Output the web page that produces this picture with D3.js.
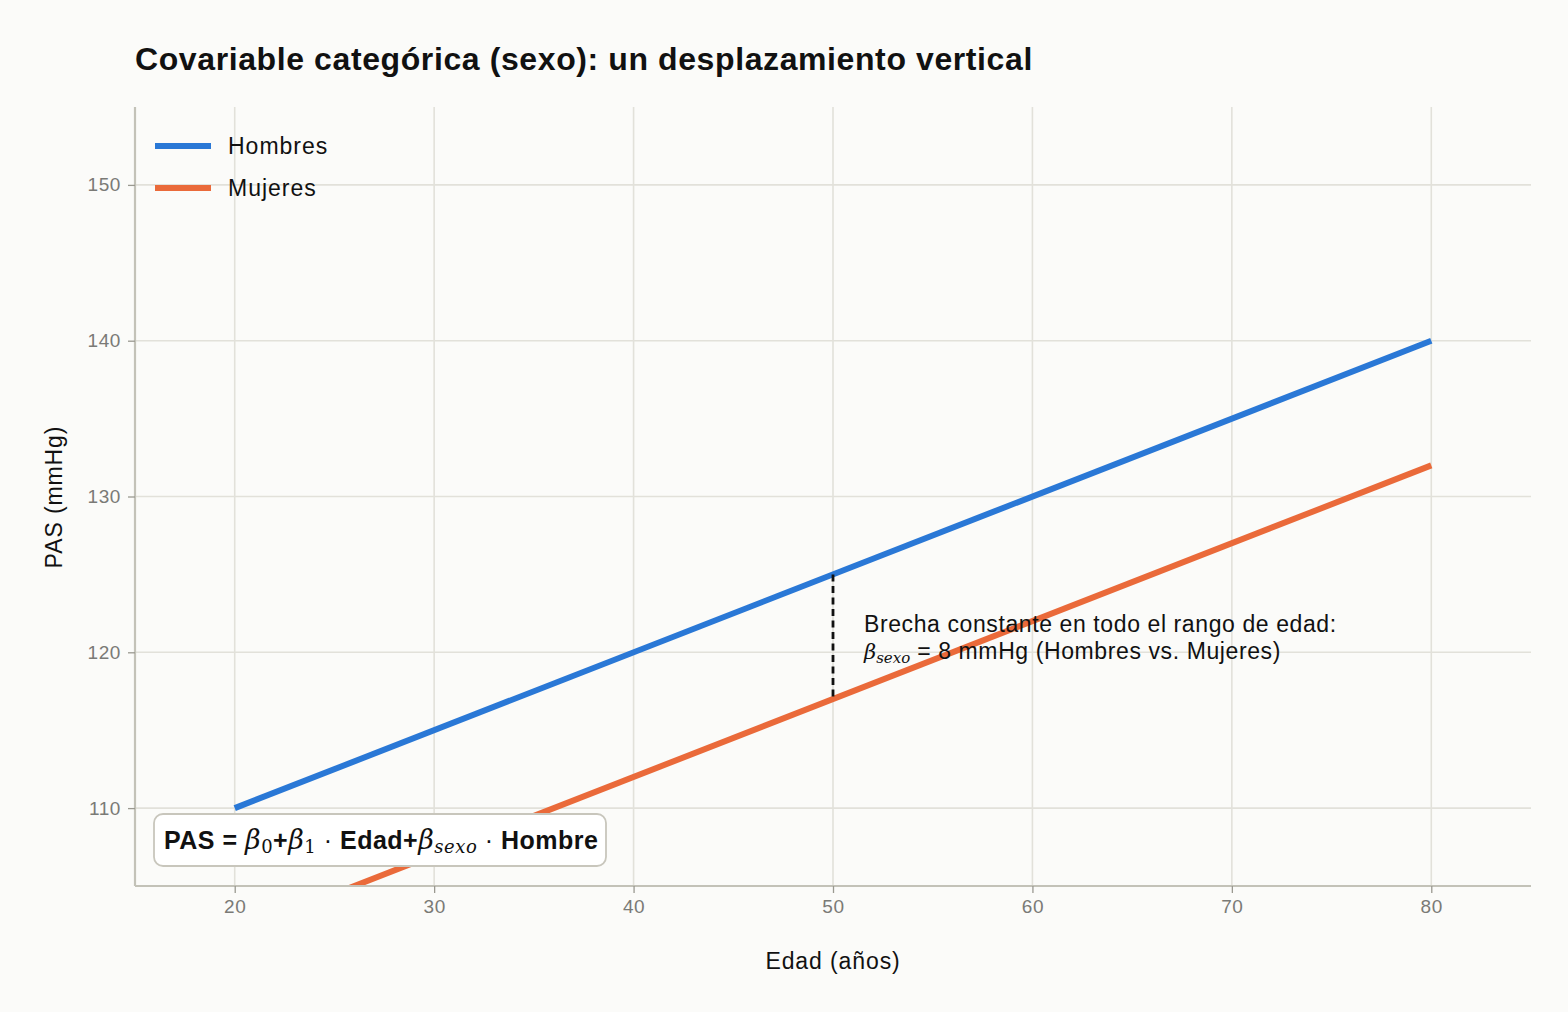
<!DOCTYPE html>
<html><head><meta charset="utf-8">
<script src="https://cdn.jsdelivr.net/npm/d3@7/dist/d3.min.js"></script>
<style>
body{margin:0;background:#fbfbf9;}
svg{display:block;font-family:"Liberation Sans",Arial,Helvetica,sans-serif;}
</style></head><body>
<svg id="c" width="1568" height="1012"></svg>
<script>
const ages = [20, 80];
const hombres = [110, 140];
const mujeres = [102, 132];
const xTicks = [20, 30, 40, 50, 60, 70, 80];
const yTicks = [110, 120, 130, 140, 150];
const seriesNames = ["Hombres", "Mujeres"];
const gapAge = 50, gapTop = 125, gapBottom = 117;

const svg = d3.select("#c");
svg.append("rect").attr("width",1568).attr("height",1012).attr("fill","#fbfbf9");
const L=135,R=1531,T=107,B=886;
const x = d3.scaleLinear().domain([15,85]).range([L,R]);
const y = d3.scaleLinear().domain([105,155]).range([B,T]);
const colors = {Hombres:"#2a78d6", Mujeres:"#ea6a3a"};

// grid
svg.append("g").selectAll("line").data(xTicks).join("line")
  .attr("x1",d=>x(d)).attr("x2",d=>x(d)).attr("y1",T).attr("y2",B)
  .attr("stroke","#e2e1da").attr("stroke-width",1.6);
svg.append("g").selectAll("line").data(yTicks).join("line")
  .attr("y1",d=>y(d)).attr("y2",d=>y(d)).attr("x1",L).attr("x2",R)
  .attr("stroke","#e2e1da").attr("stroke-width",1.6);

svg.append("defs").append("clipPath").attr("id","clip").append("rect")
  .attr("x",L).attr("y",T).attr("width",R-L).attr("height",B-T);

const line = d3.line().x(d=>x(d[0])).y(d=>y(d[1]));
const series = [["Hombres",hombres],["Mujeres",mujeres]];
svg.append("g").attr("clip-path","url(#clip)").selectAll("path").data(series).join("path")
  .attr("d",d=>line(ages.map((a,i)=>[a,d[1][i]])))
  .attr("fill","none").attr("stroke",d=>colors[d[0]]).attr("stroke-width",6);

// dashed gap
svg.append("line").attr("x1",x(gapAge)).attr("x2",x(gapAge))
  .attr("y1",y(gapTop)).attr("y2",y(gapBottom))
  .attr("stroke","#111").attr("stroke-width",2.8).attr("stroke-dasharray","7,4.5");

// axes
const xa = svg.append("g").attr("transform",`translate(0,${B})`)
  .call(d3.axisBottom(x).tickValues(xTicks).tickSize(7).tickPadding(7));
const ya = svg.append("g").attr("transform",`translate(${L},0)`)
  .call(d3.axisLeft(y).tickValues(yTicks).tickSize(7).tickPadding(7));
[xa,ya].forEach(a=>{
  a.select(".domain").attr("stroke","#c3c2b8").attr("stroke-width",2.2);
  a.selectAll(".tick line").attr("stroke","#9a9990").attr("stroke-width",1.3);
  a.selectAll(".tick text").attr("fill","#7a7a76").attr("font-size",19).attr("letter-spacing",0.6)
   .attr("font-family","'Liberation Sans',Arial,sans-serif");
});
xa.select(".domain").attr("d",`M${L},0H${R}`);
ya.select(".domain").attr("d",`M0,${T}V${B}`);

// titles
svg.append("text").attr("x",135).attr("y",70).attr("font-size",32).attr("font-weight","bold").attr("letter-spacing",0.6)
  .attr("fill","#111").text("Covariable categórica (sexo): un desplazamiento vertical");
svg.append("text").attr("x",833).attr("y",969).attr("text-anchor","middle")
  .attr("font-size",23).attr("letter-spacing",0.9).attr("fill","#111").text("Edad (años)");
svg.append("text").attr("transform","translate(62,497) rotate(-90)").attr("text-anchor","middle")
  .attr("font-size",23).attr("letter-spacing",0.9).attr("fill","#111").text("PAS (mmHg)");

// legend
const lg = svg.append("g");
seriesNames.forEach((n,i)=>{
  const yy = 146 + i*42;
  lg.append("line").attr("x1",155).attr("x2",211).attr("y1",yy).attr("y2",yy)
    .attr("stroke",colors[n]).attr("stroke-width",6);
  lg.append("text").attr("x",228).attr("y",yy+8).attr("font-size",23).attr("letter-spacing",1.0).attr("fill","#111").text(n);
});

// annotation
const mathFont = "'DejaVu Serif','Liberation Serif',serif";
svg.append("text").attr("x",864).attr("y",632).attr("font-size",23).attr("letter-spacing",0.6).attr("fill","#111")
  .text("Brecha constante en todo el rango de edad:");
const l2 = svg.append("text").attr("x",864).attr("y",659).attr("font-size",23).attr("letter-spacing",0.6).attr("fill","#111");
l2.append("tspan").attr("font-family",mathFont).attr("font-style","italic").attr("letter-spacing",0).attr("font-size",21).text("β");
l2.append("tspan").attr("font-family",mathFont).attr("font-style","italic").attr("letter-spacing",0).attr("font-size",15).attr("dy",4).text("sexo");
l2.append("tspan").attr("dy",-4).text(" = 8 mmHg (Hombres vs. Mujeres)");

// formula box
svg.append("rect").attr("x",154).attr("y",814).attr("width",452).attr("height",52).attr("rx",9)
  .attr("fill","#ffffff").attr("stroke","#c8c6bc").attr("stroke-width",1.8);
const f = svg.append("text").attr("x",164).attr("y",849).attr("font-size",25).attr("font-weight","bold").attr("letter-spacing",0.5).attr("fill","#111");
f.append("tspan").text("PAS = ");
f.append("tspan").attr("font-family",mathFont).attr("font-style","italic").attr("font-weight","normal").attr("font-size",27).text("β");
f.append("tspan").attr("font-family",mathFont).attr("font-weight","normal").attr("font-size",18).attr("dy",4).text("0");
f.append("tspan").attr("dy",-4).text("+");
f.append("tspan").attr("font-family",mathFont).attr("font-style","italic").attr("font-weight","normal").attr("font-size",27).text("β");
f.append("tspan").attr("font-family",mathFont).attr("font-weight","normal").attr("font-size",18).attr("dy",4).text("1");
f.append("tspan").attr("dy",-4).attr("font-weight","normal").text(" · ");
f.append("tspan").text("Edad+");
f.append("tspan").attr("font-family",mathFont).attr("font-style","italic").attr("font-weight","normal").attr("font-size",27).text("β");
f.append("tspan").attr("font-family",mathFont).attr("font-style","italic").attr("font-weight","normal").attr("font-size",18).attr("dy",4).text("sexo");
f.append("tspan").attr("dy",-4).attr("font-weight","normal").text(" · ");
f.append("tspan").text("Hombre");
</script></body></html>
